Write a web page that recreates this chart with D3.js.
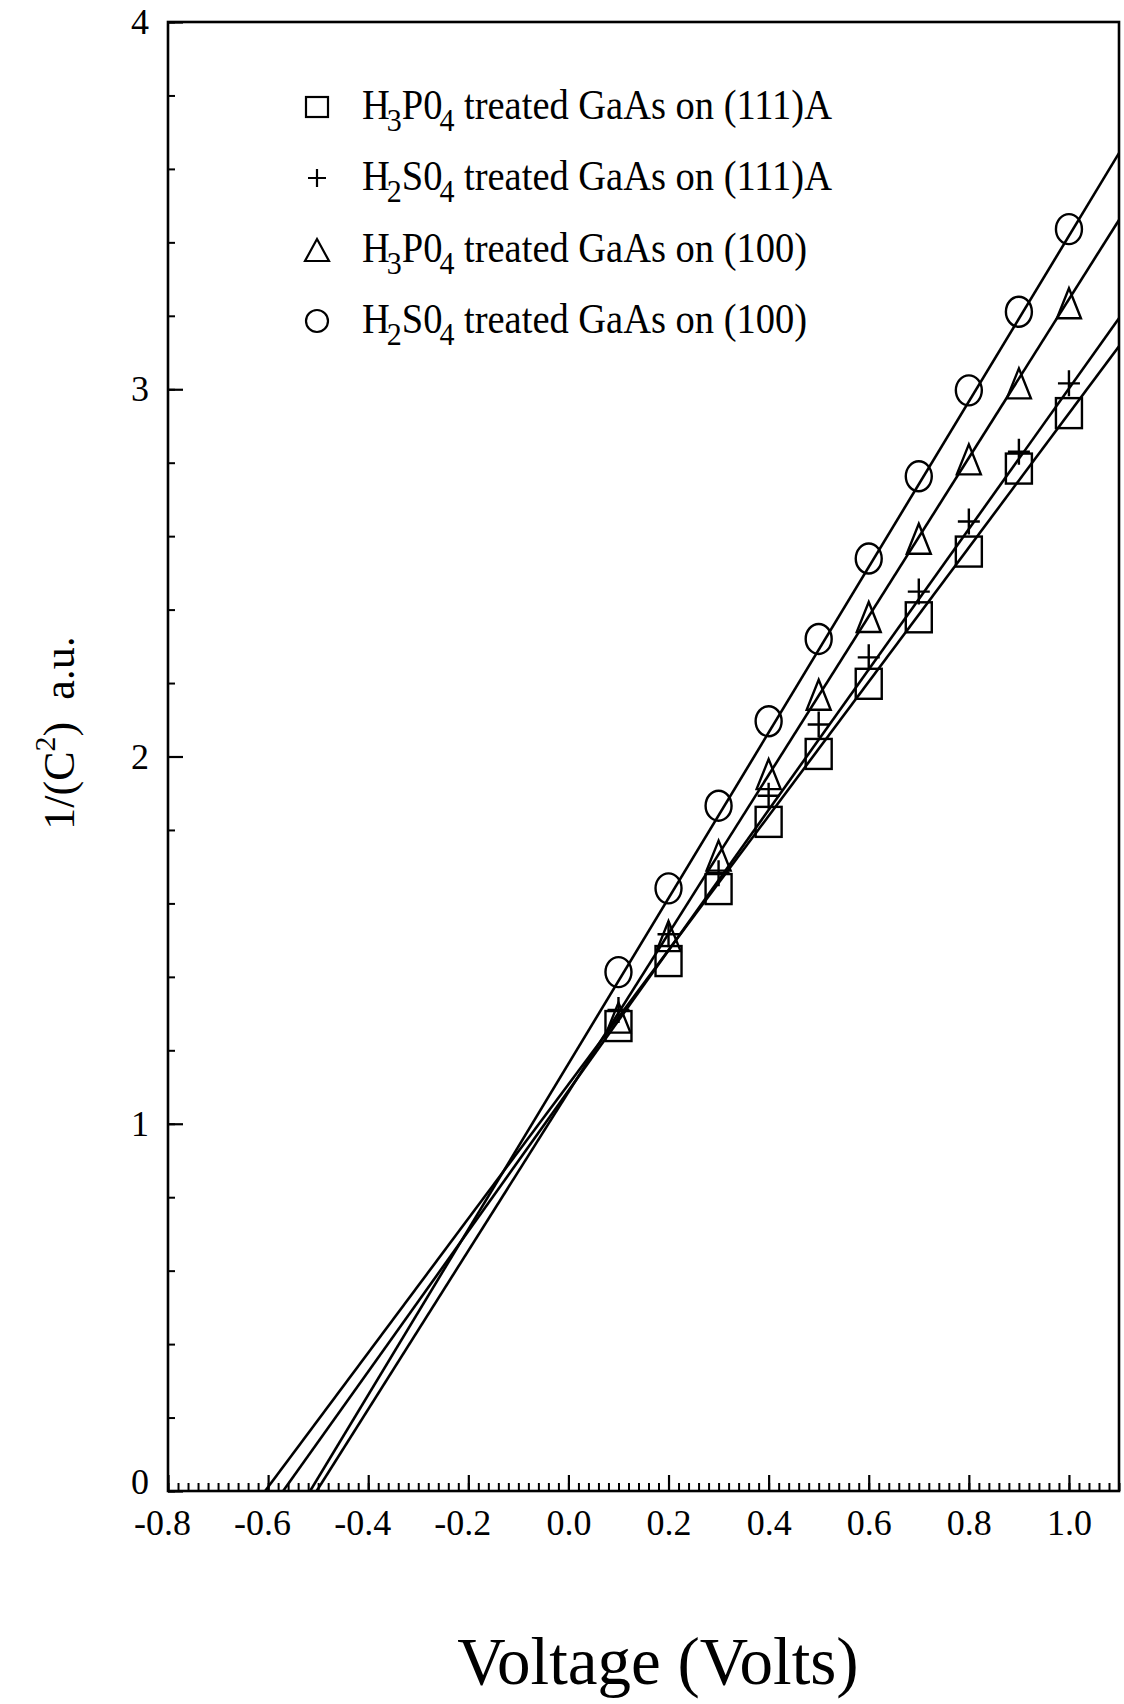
<!DOCTYPE html>
<html>
<head>
<meta charset="utf-8">
<script src="https://cdn.jsdelivr.net/npm/d3@7"></script>
<style>
  html, body { margin: 0; padding: 0; background: #fff; }
  svg { display: block; font-family: "Liberation Serif", "Times New Roman", serif; }
</style>
</head>
<body>
<svg id="chart" width="1124" height="1704"></svg>
<script>
// ---- data ----
const voltages = [0.1, 0.2, 0.3, 0.4, 0.5, 0.6, 0.7, 0.8, 0.9, 1.0];
const h3po4_111A = [1.266, 1.443, 1.639, 1.822, 2.007, 2.198, 2.379, 2.558, 2.784, 2.935];
const h2so4_111A = [1.31, 1.516, 1.682, 1.893, 2.087, 2.270, 2.449, 2.640, 2.830, 3.016];
const h3po4_100  = [1.289, 1.511, 1.730, 1.952, 2.168, 2.380, 2.593, 2.809, 3.016, 3.234];
const h2so4_100  = [1.413, 1.641, 1.866, 2.096, 2.320, 2.539, 2.763, 2.997, 3.211, 3.436];
// fitted lines: x-intercept (1/C^2 = 0) and value at V = 1.1
const fitIntercepts = [-0.606, -0.570, -0.503, -0.516];
const fitEndValues  = [3.117, 3.193, 3.461, 3.643];
const fitEndVoltage = 1.1;
const legendParts = [
  [["H",""],["3","sub"],["P0",""],["4","sub"],[" treated GaAs on (111)A",""]],
  [["H",""],["2","sub"],["S0",""],["4","sub"],[" treated GaAs on (111)A",""]],
  [["H",""],["3","sub"],["P0",""],["4","sub"],[" treated GaAs on (100)",""]],
  [["H",""],["2","sub"],["S0",""],["4","sub"],[" treated GaAs on (100)",""]]
];
const markerTypes = ["square", "plus", "triangle", "circle"];
const xTickValues = [-0.8, -0.6, -0.4, -0.2, 0.0, 0.2, 0.4, 0.6, 0.8, 1.0];
const yTickValues = [0, 1, 2, 3, 4];
const xDomain = [-0.8, 1.1];
const yDomain = [0, 4];
const xTitle = "Voltage (Volts)";

const allSeries = [h3po4_111A, h2so4_111A, h3po4_100, h2so4_100];

// ---- layout ----
const L = 168, R = 1119, T = 22, B = 1491;
const svg = d3.select("#chart");
const x = d3.scaleLinear().domain(xDomain).range([L, R]);
const y = d3.scaleLinear().domain(yDomain).range([B, T]);
const SW = 2.6;

svg.append("defs").append("clipPath").attr("id", "plotclip")
  .append("rect").attr("x", L).attr("y", T).attr("width", R - L).attr("height", B - T);

// minor ticks x (every 0.02)
const xMinor = d3.range(0, 96).map(i => +(xDomain[0] + i * 0.02).toFixed(2)).filter(v => v <= xDomain[1] + 1e-9);
svg.append("g").attr("transform", `translate(0,${B})`)
  .call(d3.axisBottom(x).tickValues(xMinor).tickSize(-8).tickFormat(""))
  .call(g => g.select(".domain").remove())
  .call(g => g.selectAll("line").attr("stroke", "#000").attr("stroke-width", 2));

// major x ticks + labels
svg.append("g").attr("transform", `translate(0,${B})`)
  .call(d3.axisBottom(x).tickValues(xTickValues).tickSize(-16).tickPadding(18).tickFormat(d => d.toFixed(1)))
  .call(g => g.select(".domain").remove())
  .call(g => g.selectAll("line").attr("stroke", "#000").attr("stroke-width", 2.2))
  .call(g => g.selectAll("text").attr("font-size", 36).attr("fill", "#000")
    .attr("font-family", "Liberation Serif")
    .attr("dx", d => d < 0 ? -6 : 0));

// minor y ticks (every 0.2)
const yMinor = d3.range(0, 21).map(i => +(i * 0.2).toFixed(1));
svg.append("g").attr("transform", `translate(${L},0)`)
  .call(d3.axisLeft(y).tickValues(yMinor).tickSize(-7).tickFormat(""))
  .call(g => g.select(".domain").remove())
  .call(g => g.selectAll("line").attr("stroke", "#000").attr("stroke-width", 2));

svg.append("g").attr("transform", `translate(${L},0)`)
  .call(d3.axisLeft(y).tickValues(yTickValues).tickSize(-15).tickPadding(19).tickFormat(d3.format("d")))
  .call(g => g.select(".domain").remove())
  .call(g => g.selectAll("line").attr("stroke", "#000").attr("stroke-width", 2.2))
  .call(g => g.selectAll("text").attr("font-size", 36).attr("fill", "#000")
    .attr("font-family", "Liberation Serif").attr("dy", d => d === 0 ? "0.08em" : "0.32em"));

// frame
svg.append("rect").attr("x", L).attr("y", T).attr("width", R - L).attr("height", B - T)
  .attr("fill", "none").attr("stroke", "#000").attr("stroke-width", SW);

// fitted lines
const line = d3.line().x(d => x(d[0])).y(d => y(d[1]));
const gFit = svg.append("g").attr("clip-path", "url(#plotclip)");
fitIntercepts.forEach((x0, i) => {
  gFit.append("path").attr("d", line([[x0, 0], [fitEndVoltage, fitEndValues[i]]]))
    .attr("fill", "none").attr("stroke", "#000").attr("stroke-width", SW);
});

function drawMarker(g, type, cx, cy, s) {
  const w = s.w, h = s.h;
  if (type === "square") {
    g.append("rect").attr("x", cx - w / 2).attr("y", cy - h / 2).attr("width", w).attr("height", h)
      .attr("fill", "none").attr("stroke", "#000").attr("stroke-width", s.sw);
  } else if (type === "circle") {
    g.append("ellipse").attr("cx", cx).attr("cy", cy).attr("rx", w / 2).attr("ry", h / 2)
      .attr("fill", "none").attr("stroke", "#000").attr("stroke-width", s.sw);
  } else if (type === "triangle") {
    g.append("path").attr("d", `M${cx},${cy - h / 2}L${cx + w / 2},${cy + h / 2}L${cx - w / 2},${cy + h / 2}Z`)
      .attr("fill", "none").attr("stroke", "#000").attr("stroke-width", s.sw);
  } else if (type === "plus") {
    g.append("path").attr("d", `M${cx - w / 2},${cy}H${cx + w / 2}M${cx},${cy - h / 2}V${cy + h / 2}`)
      .attr("fill", "none").attr("stroke", "#000").attr("stroke-width", s.sw);
  }
}
const dataSizes = {
  square: { w: 26, h: 30, sw: 2.4 },
  circle: { w: 26, h: 30, sw: 2.4 },
  triangle: { w: 24, h: 30, sw: 2.4 },
  plus: { w: 22, h: 26, sw: 2.4 }
};
const gPts = svg.append("g");
allSeries.forEach((vals, i) => {
  const t = markerTypes[i];
  vals.forEach((v, j) => drawMarker(gPts, t, x(voltages[j]), y(v), dataSizes[t]));
});

// legend
const legendSizes = {
  square: { w: 22, h: 20, sw: 2.2 },
  circle: { w: 22, h: 22, sw: 2.2 },
  triangle: { w: 24, h: 22, sw: 2.2 },
  plus: { w: 18, h: 18, sw: 2.2 }
};
const legendY = [107, 178, 250, 321];
const gLeg = svg.append("g");
legendParts.forEach((parts, i) => {
  drawMarker(gLeg, markerTypes[i], 317, legendY[i], legendSizes[markerTypes[i]]);
  const txt = gLeg.append("text")
    .attr("transform", `translate(362,${legendY[i] + 12}) scale(1,1.08)`)
    .attr("font-size", 38.5).attr("fill", "#000");
  let lowered = false;
  parts.forEach(p => {
    const ts = txt.append("tspan").text(p[0]);
    if (p[1] === "sub") {
      ts.attr("font-size", 30).attr("dx", -3).attr("dy", lowered ? 0 : 11);
      lowered = true;
    } else if (lowered) {
      ts.attr("dy", -11);
      lowered = false;
    }
  });
});

// y title
const yt = svg.append("text").attr("transform", "translate(74,733) rotate(-90)")
  .attr("text-anchor", "middle").attr("font-size", 44).attr("fill", "#000");
yt.append("tspan").text("1/(C");
yt.append("tspan").text("2").attr("font-size", 30).attr("dy", -19);
yt.append("tspan").text(")\u00a0\u00a0a.u.").attr("dy", 19);

// x title
svg.append("text").attr("x", 658).attr("y", 1684).attr("text-anchor", "middle")
  .attr("font-size", 67).attr("fill", "#000").text(xTitle);
</script>
</body>
</html>
